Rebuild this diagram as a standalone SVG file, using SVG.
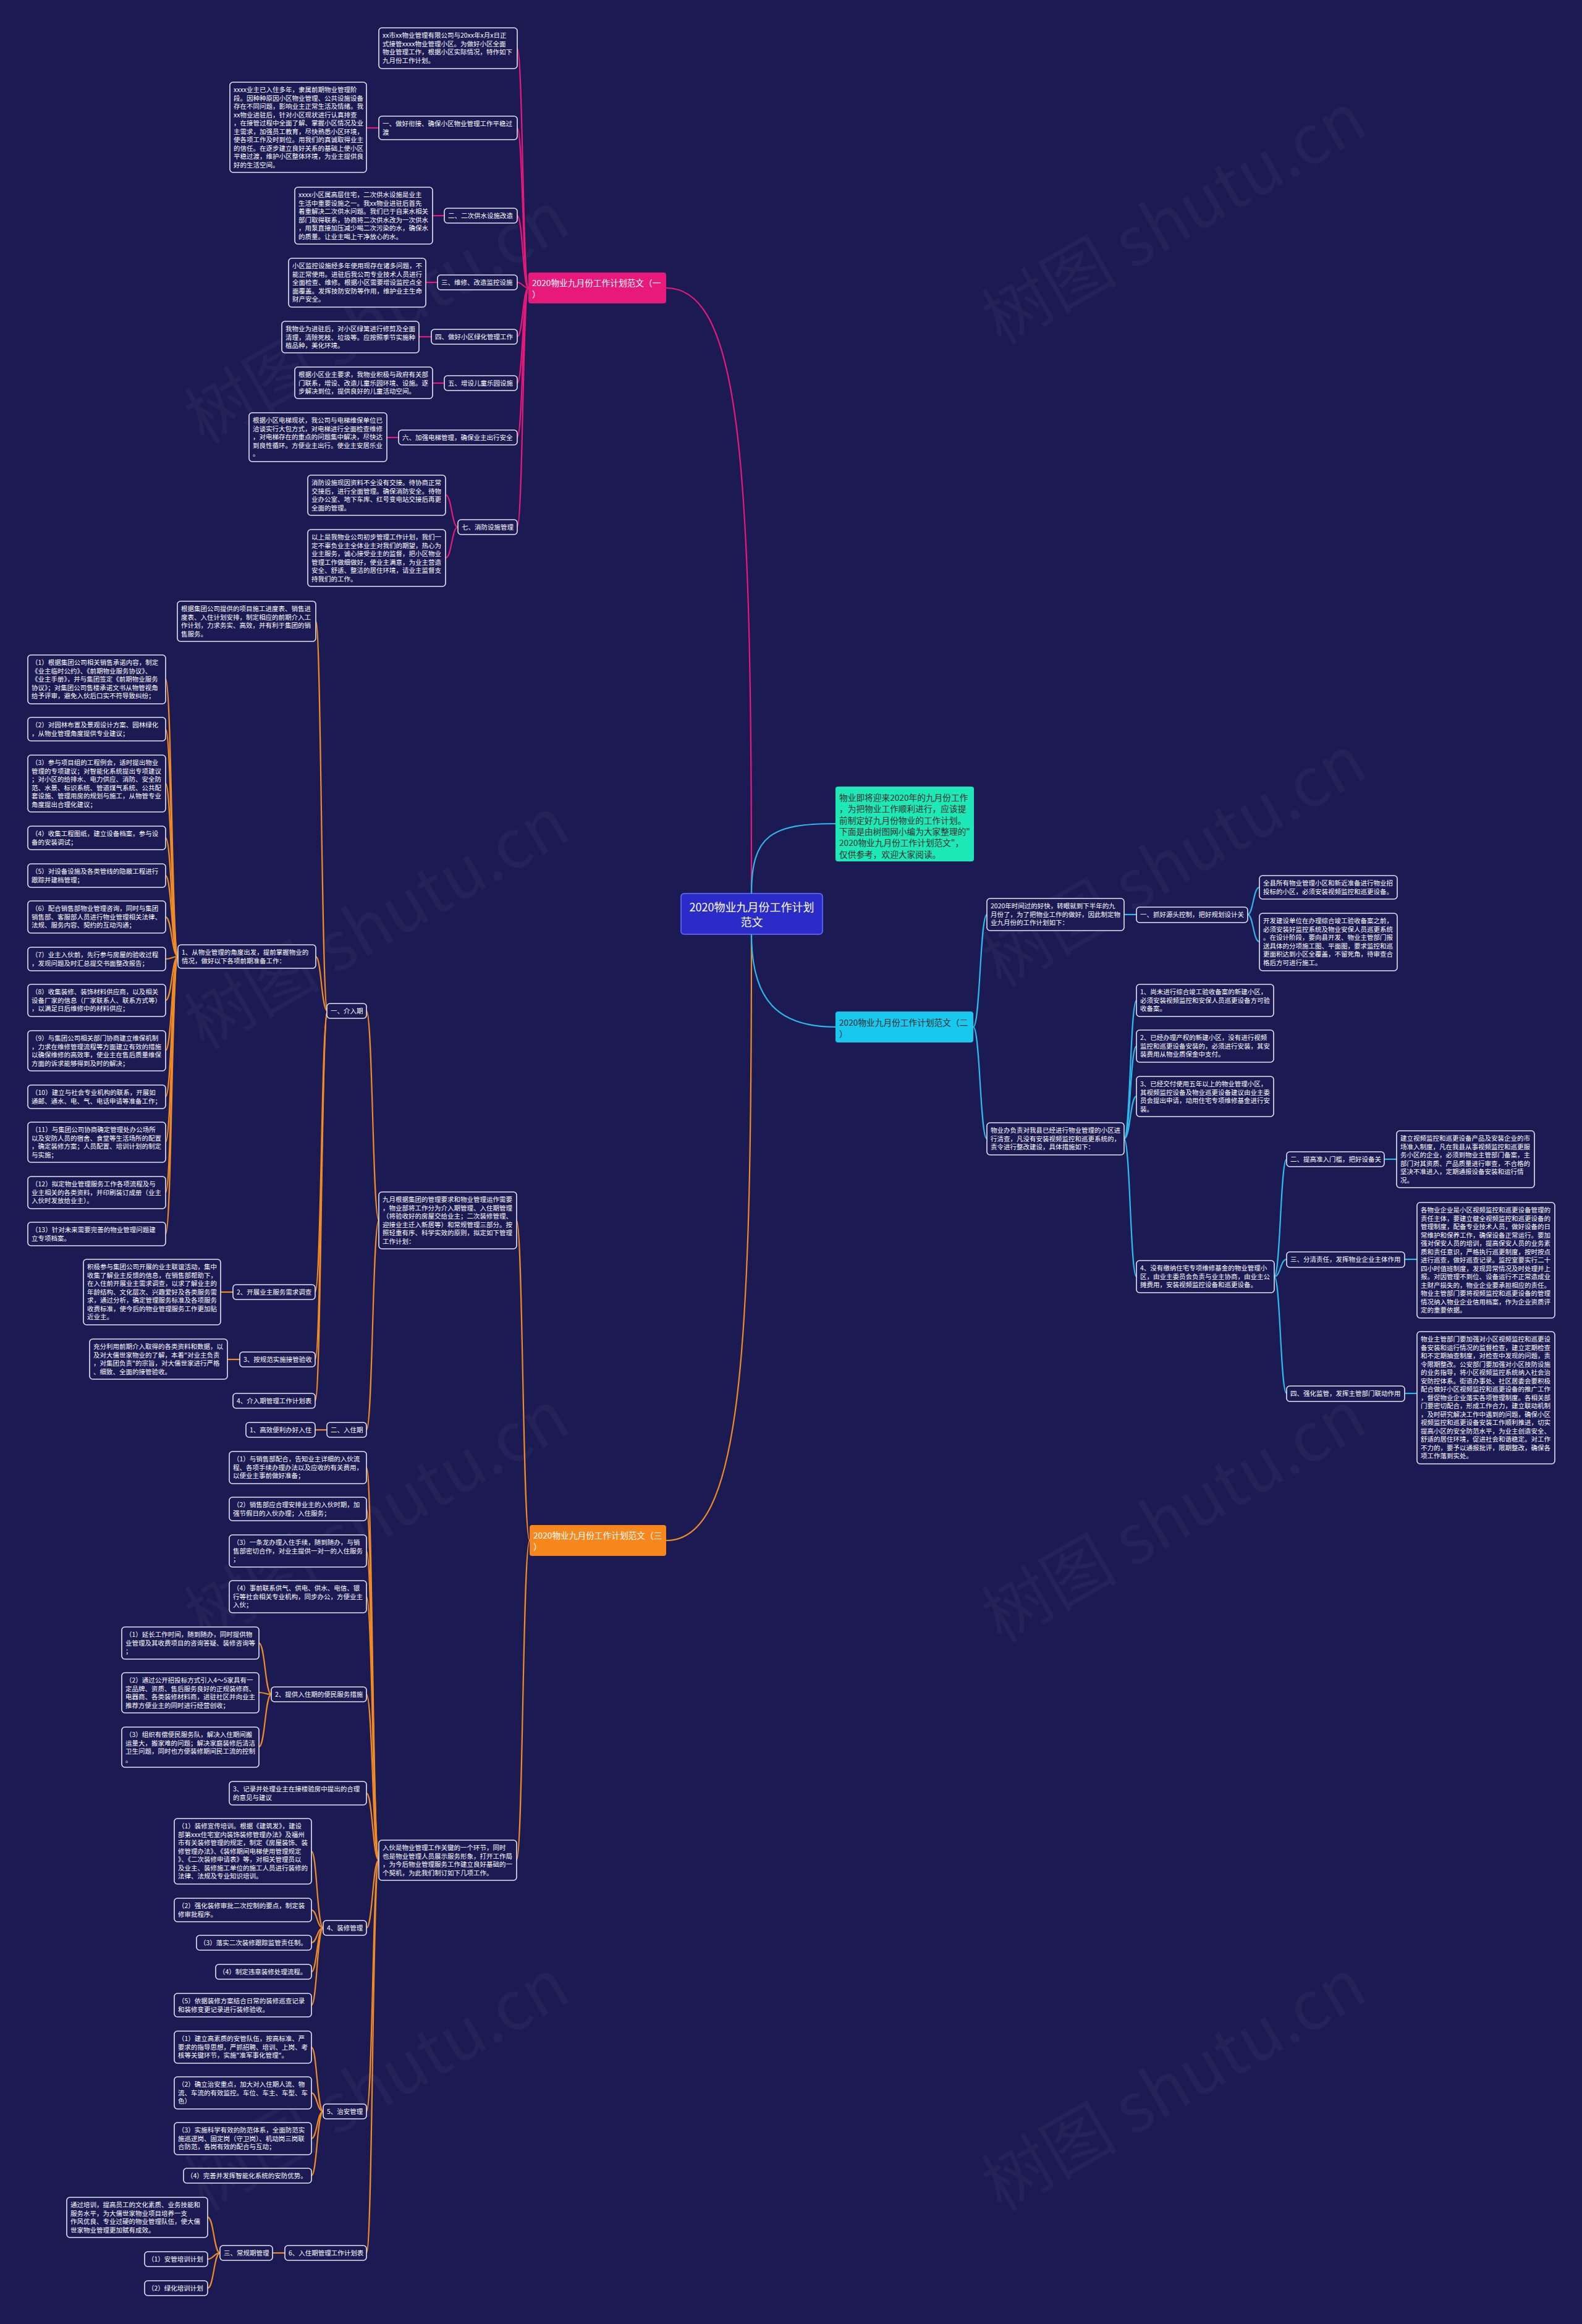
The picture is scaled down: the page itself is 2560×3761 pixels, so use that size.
<svg xmlns="http://www.w3.org/2000/svg" width="2560" height="3761" viewBox="0 0 2560 3761">
<style>
.bg{fill:#1b1a53}
.n rect{fill:#1b1a53;stroke:#e4e4ef;stroke-width:1.6}
.t{font-family:"Noto Sans CJK SC","Noto Sans",sans-serif;font-size:10.5px;fill:#ffffff}
.h{font-family:"Noto Sans CJK SC","Noto Sans",sans-serif;font-size:13.7px}
.lp{fill:none;stroke:#e8197a;stroke-width:2.2}
.lo{fill:none;stroke:#f08a24;stroke-width:2.2}
.lc{fill:none;stroke:#2cb9ec;stroke-width:2.2}
.wm{font-family:"Noto Sans CJK SC","Liberation Sans",sans-serif;font-size:110px;fill:#ffffff;fill-opacity:0.035}
</style>
<rect class="bg" x="0" y="0" width="2560" height="3761"/>
<g id="watermark">
<text class="wm" transform="translate(330,720) rotate(-30)">树图 shutu.cn</text>
<text class="wm" transform="translate(1620,560) rotate(-30)">树图 shutu.cn</text>
<text class="wm" transform="translate(330,1700) rotate(-30)">树图 shutu.cn</text>
<text class="wm" transform="translate(1620,1600) rotate(-30)">树图 shutu.cn</text>
<text class="wm" transform="translate(330,2660) rotate(-30)">树图 shutu.cn</text>
<text class="wm" transform="translate(1620,2660) rotate(-30)">树图 shutu.cn</text>
<text class="wm" transform="translate(330,3580) rotate(-30)">树图 shutu.cn</text>
<text class="wm" transform="translate(1620,3580) rotate(-30)">树图 shutu.cn</text>
</g>
<g id="connectors">
<path class="lp" d="M1216 1446 C1216 760 1200 466 1078 466"/>
<path class="lp" d="M855 466 C846 466 846 78 837 78"/>
<path class="lp" d="M855 466 C846 466 846 207 837 207"/>
<path class="lp" d="M855 466 C846 466 846 349 837 349"/>
<path class="lp" d="M855 466 C846 466 846 457 837 457"/>
<path class="lp" d="M855 466 C846 466 846 545 837 545"/>
<path class="lp" d="M855 466 C846 466 846 620 837 620"/>
<path class="lp" d="M855 466 C846 466 846 708 837 708"/>
<path class="lp" d="M855 466 C846 466 846 853 837 853"/>
<path class="lp" d="M613 207 L593 207"/>
<path class="lp" d="M719 349 L700 349"/>
<path class="lp" d="M708 457 L689 457"/>
<path class="lp" d="M698 545 L678 545"/>
<path class="lp" d="M719 620 L700 620"/>
<path class="lp" d="M645 708 L626 708"/>
<path class="lp" d="M741 853 C731 853 731 801 721 801"/>
<path class="lp" d="M741 853 C731 853 731 903 721 903"/>
<path class="lo" d="M1216 1512 C1216 2200 1200 2493 1078 2493"/>
<path class="lo" d="M857 2493 C846 2493 846 1975 836 1975"/>
<path class="lo" d="M857 2493 C846 2493 846 3010 836 3010"/>
<path class="lo" d="M613 1975 C603 1975 603 1636 593 1636"/>
<path class="lo" d="M613 1975 C603 1975 603 2314 593 2314"/>
<path class="lo" d="M530 1636 C520 1636 520 1005 511 1005"/>
<path class="lo" d="M530 1636 C520 1636 520 1548 511 1548"/>
<path class="lo" d="M530 1636 C520 1636 520 2091 510 2091"/>
<path class="lo" d="M530 1636 C520 1636 520 2200 510 2200"/>
<path class="lo" d="M530 1636 C520 1636 520 2267 510 2267"/>
<path class="lo" d="M288 1548 C278 1548 278 1099 268 1099"/>
<path class="lo" d="M288 1548 C278 1548 278 1180 268 1180"/>
<path class="lo" d="M288 1548 C278 1548 278 1268 268 1268"/>
<path class="lo" d="M288 1548 C278 1548 278 1356 268 1356"/>
<path class="lo" d="M288 1548 C278 1548 278 1417 268 1417"/>
<path class="lo" d="M288 1548 C278 1548 278 1484 268 1484"/>
<path class="lo" d="M288 1548 C278 1548 278 1552 268 1552"/>
<path class="lo" d="M288 1548 C278 1548 278 1619 268 1619"/>
<path class="lo" d="M288 1548 C278 1548 278 1700 268 1700"/>
<path class="lo" d="M288 1548 C278 1548 278 1775 268 1775"/>
<path class="lo" d="M288 1548 C278 1548 278 1848 268 1848"/>
<path class="lo" d="M288 1548 C278 1548 278 1930 268 1930"/>
<path class="lo" d="M288 1548 C278 1548 278 1997 268 1997"/>
<path class="lo" d="M377 2091 L357 2091"/>
<path class="lo" d="M388 2200 L368 2200"/>
<path class="lo" d="M530 2314 L510 2314"/>
<path class="lo" d="M613 3010 C603 3010 603 2375 593 2375"/>
<path class="lo" d="M613 3010 C603 3010 603 2442 593 2442"/>
<path class="lo" d="M613 3010 C603 3010 603 2510 593 2510"/>
<path class="lo" d="M613 3010 C603 3010 603 2584 593 2584"/>
<path class="lo" d="M613 3010 C603 3010 603 2742 593 2742"/>
<path class="lo" d="M613 3010 C603 3010 603 2902 593 2902"/>
<path class="lo" d="M613 3010 C603 3010 603 3120 593 3120"/>
<path class="lo" d="M613 3010 C603 3010 603 3417 593 3417"/>
<path class="lo" d="M613 3010 C603 3010 603 3646 593 3646"/>
<path class="lo" d="M439 2742 C429 2742 429 2659 419 2659"/>
<path class="lo" d="M439 2742 C429 2742 429 2739 419 2739"/>
<path class="lo" d="M439 2742 C429 2742 429 2827 419 2827"/>
<path class="lo" d="M523 3120 C513 3120 513 2996 504 2996"/>
<path class="lo" d="M523 3120 C513 3120 513 3091 504 3091"/>
<path class="lo" d="M523 3120 C513 3120 513 3144 504 3144"/>
<path class="lo" d="M523 3120 C513 3120 513 3191 504 3191"/>
<path class="lo" d="M523 3120 C513 3120 513 3245 504 3245"/>
<path class="lo" d="M523 3417 C513 3417 513 3313 504 3313"/>
<path class="lo" d="M523 3417 C513 3417 513 3387 504 3387"/>
<path class="lo" d="M523 3417 C513 3417 513 3461 504 3461"/>
<path class="lo" d="M523 3417 C513 3417 513 3521 504 3521"/>
<path class="lo" d="M461 3646 L441 3646"/>
<path class="lo" d="M356 3646 C346 3646 346 3588 336 3588"/>
<path class="lo" d="M356 3646 C346 3646 346 3656 336 3656"/>
<path class="lo" d="M356 3646 C346 3646 346 3703 336 3703"/>
<path class="lc" d="M1216 1446 C1216 1350 1250 1333 1352 1333"/>
<path class="lc" d="M1216 1512 C1216 1620 1260 1662 1352 1662"/>
<path class="lc" d="M1575 1662 C1586 1662 1586 1480 1597 1480"/>
<path class="lc" d="M1575 1662 C1586 1662 1586 1843 1597 1843"/>
<path class="lc" d="M1819 1480 L1839 1480"/>
<path class="lc" d="M2019 1480 C2028 1480 2028 1436 2038 1436"/>
<path class="lc" d="M2019 1480 C2028 1480 2028 1524 2038 1524"/>
<path class="lc" d="M1819 1843 C1829 1843 1829 1619 1839 1619"/>
<path class="lc" d="M1819 1843 C1829 1843 1829 1693 1839 1693"/>
<path class="lc" d="M1819 1843 C1829 1843 1829 1774 1839 1774"/>
<path class="lc" d="M1819 1843 C1829 1843 1829 2066 1839 2066"/>
<path class="lc" d="M2062 2066 C2072 2066 2072 1876 2082 1876"/>
<path class="lc" d="M2062 2066 C2072 2066 2072 2038 2082 2038"/>
<path class="lc" d="M2062 2066 C2072 2066 2072 2255 2082 2255"/>
<path class="lc" d="M2240 1876 L2260 1876"/>
<path class="lc" d="M2273 2038 L2293 2038"/>
<path class="lc" d="M2273 2255 L2293 2255"/>
</g>
<g id="center">
<rect x="1102" y="1446" width="229" height="66" rx="5" fill="#2b2bc9" stroke="#6474ff" stroke-width="1.5"/>
<text font-family="Noto Sans CJK SC, Noto Sans, sans-serif" font-size="18" fill="#ffffff" text-anchor="middle"><tspan x="1216.5" y="1475">2020物业九月份工作计划</tspan><tspan x="1216.5" y="1499">范文</tspan></text>
</g>
<g id="intro">
<rect x="1352" y="1273" width="224" height="121" rx="4" fill="#1de9b6"/>
<text class="h" fill="#2d2d2d"><tspan x="1358" y="1296">物业即将迎来2020年的九月份工作</tspan><tspan x="1358" dy="18.3">，为把物业工作顺利进行，应该提</tspan><tspan x="1358" dy="18.3">前制定好九月份物业的工作计划。</tspan><tspan x="1358" dy="18.3">下面是由树图网小编为大家整理的"</tspan><tspan x="1358" dy="18.3">2020物业九月份工作计划范文"，</tspan><tspan x="1358" dy="18.3">仅供参考，欢迎大家阅读。</tspan></text>
</g>
<g id="branch1">
<rect x="855" y="441" width="223" height="50" rx="4" fill="#e8197a"/>
<text class="h" fill="#ffffff"><tspan x="861" y="463">2020物业九月份工作计划范文（一</tspan><tspan x="861" dy="18">）</tspan></text>
</g>
<g id="branch2">
<rect x="1352" y="1637" width="223" height="50" rx="4" fill="#19c8ef"/>
<text class="h" fill="#2d2d2d"><tspan x="1358" y="1660">2020物业九月份工作计划范文（二</tspan><tspan x="1358" dy="18">）</tspan></text>
</g>
<g id="branch3">
<rect x="857" y="2468" width="221" height="50" rx="4" fill="#f7861c"/>
<text class="h" fill="#ffffff"><tspan x="863" y="2490">2020物业九月份工作计划范文（三</tspan><tspan x="863" dy="18">）</tspan></text>
</g>
<g id="p1" class="n"><rect x="613" y="45" width="224" height="66" rx="5"/><text class="t"><tspan x="619" y="61">xx市xx物业管理有限公司与20xx年x月x日正</tspan><tspan x="619" dy="13.5">式接管xxxx物业管理小区。为做好小区全面</tspan><tspan x="619" dy="13.5">物业管理工作，根据小区实际情况，特作如下</tspan><tspan x="619" dy="13.5">九月份工作计划。</tspan></text></g>
<g id="p2" class="n"><rect x="613" y="188" width="224" height="38" rx="5"/><text class="t"><tspan x="619" y="204">一、做好衔接、确保小区物业管理工作平稳过</tspan><tspan x="619" dy="13.5">渡</tspan></text></g>
<g id="p2d" class="n"><rect x="372" y="133" width="221" height="146" rx="5"/><text class="t"><tspan x="378" y="149">xxxx业主已入住多年，隶属前期物业管理阶</tspan><tspan x="378" dy="13.5">段。因种种原因小区物业管理、公共设施设备</tspan><tspan x="378" dy="13.5">存在不同问题，影响业主正常生活及情绪。我</tspan><tspan x="378" dy="13.5">xx物业进驻后，针对小区现状进行认真排查</tspan><tspan x="378" dy="13.5">，在接管过程中全面了解、掌握小区情况及业</tspan><tspan x="378" dy="13.5">主需求，加强员工教育，尽快熟悉小区环境，</tspan><tspan x="378" dy="13.5">使各项工作及时到位。用我们的真诚取得业主</tspan><tspan x="378" dy="13.5">的信任。在逐步建立良好关系的基础上使小区</tspan><tspan x="378" dy="13.5">平稳过渡，维护小区整体环境，为业主提供良</tspan><tspan x="378" dy="13.5">好的生活空间。</tspan></text></g>
<g id="p3" class="n"><rect x="719" y="337" width="118" height="24" rx="5"/><text class="t"><tspan x="725" y="353">二、二次供水设施改造</tspan></text></g>
<g id="p3d" class="n"><rect x="477" y="303" width="223" height="92" rx="5"/><text class="t"><tspan x="483" y="319">xxxx小区属高层住宅，二次供水设施是业主</tspan><tspan x="483" dy="13.5">生活中重要设施之一。我xx物业进驻后首先</tspan><tspan x="483" dy="13.5">着重解决二次供水问题。我们已于自来水相关</tspan><tspan x="483" dy="13.5">部门取得联系，协商将二次供水改为一次供水</tspan><tspan x="483" dy="13.5">，用泵直接加压减少喝二次污染的水，确保水</tspan><tspan x="483" dy="13.5">的质量。让业主喝上干净放心的水。</tspan></text></g>
<g id="p4" class="n"><rect x="708" y="445" width="129" height="24" rx="5"/><text class="t"><tspan x="714" y="461">三、维修、改造监控设施</tspan></text></g>
<g id="p4d" class="n"><rect x="467" y="418" width="222" height="79" rx="5"/><text class="t"><tspan x="473" y="434">小区监控设施经多年使用现存在诸多问题，不</tspan><tspan x="473" dy="13.5">能正常使用。进驻后我公司专业技术人员进行</tspan><tspan x="473" dy="13.5">全面检查、维修。根据小区需要增设监控点全</tspan><tspan x="473" dy="13.5">面覆盖。发挥技防安防等作用，维护业主生命</tspan><tspan x="473" dy="13.5">财产安全。</tspan></text></g>
<g id="p5" class="n"><rect x="698" y="533" width="139" height="24" rx="5"/><text class="t"><tspan x="704" y="549">四、做好小区绿化管理工作</tspan></text></g>
<g id="p5d" class="n"><rect x="456" y="520" width="222" height="51" rx="5"/><text class="t"><tspan x="462" y="536">我物业为进驻后，对小区绿篱进行修剪及全面</tspan><tspan x="462" dy="13.5">清理，清除死枝、垃圾等。应按照季节实施种</tspan><tspan x="462" dy="13.5">植品种，美化环境。</tspan></text></g>
<g id="p6" class="n"><rect x="719" y="608" width="118" height="24" rx="5"/><text class="t"><tspan x="725" y="624">五、增设儿童乐园设施</tspan></text></g>
<g id="p6d" class="n"><rect x="477" y="594" width="223" height="51" rx="5"/><text class="t"><tspan x="483" y="610">根据小区业主要求，我物业积极与政府有关部</tspan><tspan x="483" dy="13.5">门联系，增设、改造儿童乐园环境、设施。逐</tspan><tspan x="483" dy="13.5">步解决到位，提供良好的儿童活动空间。</tspan></text></g>
<g id="p7" class="n"><rect x="645" y="696" width="192" height="24" rx="5"/><text class="t"><tspan x="651" y="712">六、加强电梯管理，确保业主出行安全</tspan></text></g>
<g id="p7d" class="n"><rect x="403" y="668" width="223" height="79" rx="5"/><text class="t"><tspan x="409" y="684">根据小区电梯现状，我公司与电梯维保单位已</tspan><tspan x="409" dy="13.5">洽谈实行大包方式，对电梯进行全面检查维修</tspan><tspan x="409" dy="13.5">，对电梯存在的重点的问题集中解决，尽快达</tspan><tspan x="409" dy="13.5">到良性循环。方便业主出行。使业主安居乐业</tspan><tspan x="409" dy="13.5">。</tspan></text></g>
<g id="p8" class="n"><rect x="741" y="841" width="96" height="24" rx="5"/><text class="t"><tspan x="747" y="857">七、消防设施管理</tspan></text></g>
<g id="p8a" class="n"><rect x="498" y="769" width="223" height="65" rx="5"/><text class="t"><tspan x="504" y="785">消防设施现因资料不全没有交接。待协商正常</tspan><tspan x="504" dy="13.5">交接后，进行全面管理。确保消防安全。待物</tspan><tspan x="504" dy="13.5">业办公室、地下车库、红号变电站交接后再更</tspan><tspan x="504" dy="13.5">全面的管理。</tspan></text></g>
<g id="p8b" class="n"><rect x="498" y="857" width="223" height="92" rx="5"/><text class="t"><tspan x="504" y="873">以上是我物业公司初步管理工作计划，我们一</tspan><tspan x="504" dy="13.5">定不辜负业主全体业主对我们的期望，热心为</tspan><tspan x="504" dy="13.5">业主服务，诚心接受业主的监督，把小区物业</tspan><tspan x="504" dy="13.5">管理工作做细做好，使业主满意，为业主营造</tspan><tspan x="504" dy="13.5">安全、舒适、整洁的居住环境，请业主监督支</tspan><tspan x="504" dy="13.5">持我们的工作。</tspan></text></g>
<g id="o1" class="n"><rect x="613" y="1929" width="223" height="92" rx="5"/><text class="t"><tspan x="619" y="1945">九月根据集团的管理要求和物业管理运作需要</tspan><tspan x="619" dy="13.5">，物业部将工作分为介入期管理、入住期管理</tspan><tspan x="619" dy="13.5">（将验收好的房屋交给业主；二次装修管理、</tspan><tspan x="619" dy="13.5">迎接业主迁入新居等）和常规管理三部分。按</tspan><tspan x="619" dy="13.5">照轻重有序、科学实效的原则，拟定如下管理</tspan><tspan x="619" dy="13.5">工作计划：</tspan></text></g>
<g id="o1a" class="n"><rect x="529" y="1624" width="64" height="24" rx="5"/><text class="t"><tspan x="535" y="1640">一、介入期</tspan></text></g>
<g id="a0" class="n"><rect x="287" y="973" width="224" height="65" rx="5"/><text class="t"><tspan x="293" y="989">根据集团公司提供的项目施工进度表、销售进</tspan><tspan x="293" dy="13.5">度表、入住计划安排，制定相应的前期介入工</tspan><tspan x="293" dy="13.5">作计划，力求务实、高效，并有利于集团的销</tspan><tspan x="293" dy="13.5">售服务。</tspan></text></g>
<g id="a1" class="n"><rect x="288" y="1529" width="223" height="38" rx="5"/><text class="t"><tspan x="294" y="1545">1、从物业管理的角度出发，提前掌握物业的</tspan><tspan x="294" dy="13.5">情况，做好以下各项前期准备工作：</tspan></text></g>
<g id="a1-1" class="n"><rect x="45" y="1060" width="223" height="79" rx="5"/><text class="t"><tspan x="51" y="1076">（1）根据集团公司相关销售承诺内容，制定</tspan><tspan x="51" dy="13.5">《业主临时公约》、《前期物业服务协议》、</tspan><tspan x="51" dy="13.5">《业主手册》，并与集团签定《前期物业服务</tspan><tspan x="51" dy="13.5">协议》；对集团公司售楼承诺文书从物管视角</tspan><tspan x="51" dy="13.5">给予评审，避免入伙后口实不符导致纠纷；</tspan></text></g>
<g id="a1-2" class="n"><rect x="45" y="1161" width="223" height="38" rx="5"/><text class="t"><tspan x="51" y="1177">（2）对园林布置及景观设计方案、园林绿化</tspan><tspan x="51" dy="13.5">，从物业管理角度提供专业建议；</tspan></text></g>
<g id="a1-3" class="n"><rect x="45" y="1222" width="223" height="92" rx="5"/><text class="t"><tspan x="51" y="1238">（3）参与项目组的工程例会，适时提出物业</tspan><tspan x="51" dy="13.5">管理的专项建议；对智能化系统提出专项建议</tspan><tspan x="51" dy="13.5">；对小区的给排水、电力供应、消防、安全防</tspan><tspan x="51" dy="13.5">范、水景、标识系统、管道煤气系统、公共配</tspan><tspan x="51" dy="13.5">套设施、管理用房的规划与施工，从物管专业</tspan><tspan x="51" dy="13.5">角度提出合理化建议；</tspan></text></g>
<g id="a1-4" class="n"><rect x="45" y="1337" width="223" height="38" rx="5"/><text class="t"><tspan x="51" y="1353">（4）收集工程图纸，建立设备档案，参与设</tspan><tspan x="51" dy="13.5">备的安装调试；</tspan></text></g>
<g id="a1-5" class="n"><rect x="45" y="1398" width="223" height="38" rx="5"/><text class="t"><tspan x="51" y="1414">（5）对设备设施及各类管线的隐蔽工程进行</tspan><tspan x="51" dy="13.5">跟踪并建档管理；</tspan></text></g>
<g id="a1-6" class="n"><rect x="45" y="1458" width="223" height="52" rx="5"/><text class="t"><tspan x="51" y="1474">（6）配合销售部物业管理咨询，同时与集团</tspan><tspan x="51" dy="13.5">销售部、客服部人员进行物业管理相关法律、</tspan><tspan x="51" dy="13.5">法规、服务内容、契约的互动沟通；</tspan></text></g>
<g id="a1-7" class="n"><rect x="45" y="1533" width="223" height="38" rx="5"/><text class="t"><tspan x="51" y="1549">（7）业主入伙前，先行参与房屋的验收过程</tspan><tspan x="51" dy="13.5">，发现问题及时汇总提交书面整改报告；</tspan></text></g>
<g id="a1-8" class="n"><rect x="45" y="1593" width="223" height="52" rx="5"/><text class="t"><tspan x="51" y="1609">（8）收集装修、装饰材料供应商，以及相关</tspan><tspan x="51" dy="13.5">设备厂家的信息（厂家联系人、联系方式等）</tspan><tspan x="51" dy="13.5">，以满足日后维修中的材料供应；</tspan></text></g>
<g id="a1-9" class="n"><rect x="45" y="1668" width="223" height="65" rx="5"/><text class="t"><tspan x="51" y="1684">（9）与集团公司相关部门协商建立维保机制</tspan><tspan x="51" dy="13.5">，力求在维修管理流程等方面建立有效的措施</tspan><tspan x="51" dy="13.5">以确保维修的高效率，使业主在售后质量维保</tspan><tspan x="51" dy="13.5">方面的诉求能够得到及时的解决；</tspan></text></g>
<g id="a1-10" class="n"><rect x="45" y="1756" width="223" height="38" rx="5"/><text class="t"><tspan x="51" y="1772">（10）建立与社会专业机构的联系，开展如</tspan><tspan x="51" dy="13.5">通邮、通水、电、气、电话申请等准备工作；</tspan></text></g>
<g id="a1-11" class="n"><rect x="45" y="1816" width="223" height="65" rx="5"/><text class="t"><tspan x="51" y="1832">（11）与集团公司协商确定管理处办公场所</tspan><tspan x="51" dy="13.5">以及安防人员的宿舍、食堂等生活场所的配置</tspan><tspan x="51" dy="13.5">，确定装修方案；人员配置、培训计划的制定</tspan><tspan x="51" dy="13.5">与实施；</tspan></text></g>
<g id="a1-12" class="n"><rect x="45" y="1904" width="223" height="52" rx="5"/><text class="t"><tspan x="51" y="1920">（12）拟定物业管理服务工作各项流程及与</tspan><tspan x="51" dy="13.5">业主相关的各类资料，并印刷装订成册（业主</tspan><tspan x="51" dy="13.5">入伙时发放给业主）。</tspan></text></g>
<g id="a1-13" class="n"><rect x="45" y="1978" width="223" height="38" rx="5"/><text class="t"><tspan x="51" y="1994">（13）针对未来需要完善的物业管理问题建</tspan><tspan x="51" dy="13.5">立专项档案。</tspan></text></g>
<g id="a2" class="n"><rect x="377" y="2079" width="133" height="24" rx="5"/><text class="t"><tspan x="383" y="2095">2、开展业主服务需求调查</tspan></text></g>
<g id="a2d" class="n"><rect x="135" y="2038" width="222" height="106" rx="5"/><text class="t"><tspan x="141" y="2054">积极参与集团公司开展的业主联谊活动，集中</tspan><tspan x="141" dy="13.5">收集了解业主反馈的信息，在销售部帮助下，</tspan><tspan x="141" dy="13.5">在入住前开展业主需求调查，以求了解业主的</tspan><tspan x="141" dy="13.5">年龄结构、文化层次、兴趣爱好及各类服务需</tspan><tspan x="141" dy="13.5">求，通过分析，确定管理服务标准及各项服务</tspan><tspan x="141" dy="13.5">收费标准，使今后的物业管理服务工作更加贴</tspan><tspan x="141" dy="13.5">近业主。</tspan></text></g>
<g id="a3" class="n"><rect x="388" y="2188" width="122" height="24" rx="5"/><text class="t"><tspan x="394" y="2204">3、按规范实施接管验收</tspan></text></g>
<g id="a3d" class="n"><rect x="145" y="2167" width="223" height="65" rx="5"/><text class="t"><tspan x="151" y="2183">充分利用前期介入取得的各类资料和数据，以</tspan><tspan x="151" dy="13.5">及对大儒世家物业的了解，本着"对业主负责</tspan><tspan x="151" dy="13.5">，对集团负责"的宗旨，对大儒世家进行严格</tspan><tspan x="151" dy="13.5">、细致、全面的接管验收。</tspan></text></g>
<g id="a4" class="n"><rect x="377" y="2255" width="133" height="24" rx="5"/><text class="t"><tspan x="383" y="2271">4、介入期管理工作计划表</tspan></text></g>
<g id="o1b" class="n"><rect x="529" y="2302" width="64" height="24" rx="5"/><text class="t"><tspan x="535" y="2318">二、入住期</tspan></text></g>
<g id="o1b1" class="n"><rect x="398" y="2302" width="112" height="24" rx="5"/><text class="t"><tspan x="404" y="2318">1、高效便利办好入住</tspan></text></g>
<g id="o2" class="n"><rect x="613" y="2978" width="223" height="65" rx="5"/><text class="t"><tspan x="619" y="2994">入伙是物业管理工作关键的一个环节，同时</tspan><tspan x="619" dy="13.5">也是物业管理人员展示服务形象，打开工作局</tspan><tspan x="619" dy="13.5">，为今后物业管理服务工作建立良好基础的一</tspan><tspan x="619" dy="13.5">个契机，为此我们制订如下几项工作。</tspan></text></g>
<g id="b1" class="n"><rect x="371" y="2349" width="222" height="52" rx="5"/><text class="t"><tspan x="377" y="2365">（1）与销售部配合，告知业主详细的入伙流</tspan><tspan x="377" dy="13.5">程、各项手续办理办法以及应收的有关费用，</tspan><tspan x="377" dy="13.5">以便业主事前做好准备；</tspan></text></g>
<g id="b2" class="n"><rect x="371" y="2423" width="222" height="38" rx="5"/><text class="t"><tspan x="377" y="2439">（2）销售部应合理安排业主的入伙时期，加</tspan><tspan x="377" dy="13.5">强节假日的入伙办理；入住服务；</tspan></text></g>
<g id="b3" class="n"><rect x="371" y="2484" width="222" height="52" rx="5"/><text class="t"><tspan x="377" y="2500">（3）一条龙办理入住手续，随到随办，与销</tspan><tspan x="377" dy="13.5">售部密切合作，对业主提供一对一的入住服务</tspan><tspan x="377" dy="13.5">；</tspan></text></g>
<g id="b4" class="n"><rect x="371" y="2558" width="222" height="52" rx="5"/><text class="t"><tspan x="377" y="2574">（4）事前联系供气、供电、供水、电信、银</tspan><tspan x="377" dy="13.5">行等社会相关专业机构，同步办公，方便业主</tspan><tspan x="377" dy="13.5">入伙；</tspan></text></g>
<g id="b5" class="n"><rect x="439" y="2730" width="154" height="24" rx="5"/><text class="t"><tspan x="445" y="2746">2、提供入住期的便民服务措施</tspan></text></g>
<g id="b5-1" class="n"><rect x="197" y="2633" width="222" height="52" rx="5"/><text class="t"><tspan x="203" y="2649">（1）延长工作时间，随到随办，同时提供物</tspan><tspan x="203" dy="13.5">业管理及其收费项目的咨询答疑、装修咨询等</tspan><tspan x="203" dy="13.5">；</tspan></text></g>
<g id="b5-2" class="n"><rect x="197" y="2707" width="222" height="65" rx="5"/><text class="t"><tspan x="203" y="2723">（2）通过公开招投标方式引入4～5家具有一</tspan><tspan x="203" dy="13.5">定品牌、资质、售后服务良好的正规装修商、</tspan><tspan x="203" dy="13.5">电器商、各类装修材料商，进驻社区并向业主</tspan><tspan x="203" dy="13.5">推荐方便业主的同时进行经营创收；</tspan></text></g>
<g id="b5-3" class="n"><rect x="197" y="2795" width="222" height="65" rx="5"/><text class="t"><tspan x="203" y="2811">（3）组织有偿便民服务队，解决入住期间搬</tspan><tspan x="203" dy="13.5">运量大，搬家难的问题；解决家庭装修后清洁</tspan><tspan x="203" dy="13.5">卫生问题，同时也方便装修期间民工流的控制</tspan><tspan x="203" dy="13.5">。</tspan></text></g>
<g id="b6" class="n"><rect x="371" y="2883" width="222" height="38" rx="5"/><text class="t"><tspan x="377" y="2899">3、记录并处理业主在接楼验房中提出的合理</tspan><tspan x="377" dy="13.5">的意见与建议</tspan></text></g>
<g id="b7" class="n"><rect x="523" y="3108" width="70" height="24" rx="5"/><text class="t"><tspan x="529" y="3124">4、装修管理</tspan></text></g>
<g id="b7-1" class="n"><rect x="282" y="2943" width="222" height="106" rx="5"/><text class="t"><tspan x="288" y="2959">（1）装修宣传培训。根据《建筑发》，建设</tspan><tspan x="288" dy="13.5">部第xxx住宅室内装饰装修管理办法》及福州</tspan><tspan x="288" dy="13.5">市有关装修管理的规定，制定《房屋装饰、装</tspan><tspan x="288" dy="13.5">修管理办法》、《装修期间电梯使用管理规定</tspan><tspan x="288" dy="13.5">》、《二次装修申请表》等，对相关管理员以</tspan><tspan x="288" dy="13.5">及业主、装修施工单位的施工人员进行装修的</tspan><tspan x="288" dy="13.5">法律、法规及专业知识培训。</tspan></text></g>
<g id="b7-2" class="n"><rect x="282" y="3072" width="222" height="38" rx="5"/><text class="t"><tspan x="288" y="3088">（2）强化装修审批二次控制的要点，制定装</tspan><tspan x="288" dy="13.5">修审批程序。</tspan></text></g>
<g id="b7-3" class="n"><rect x="318" y="3132" width="186" height="24" rx="5"/><text class="t"><tspan x="323" y="3148">（3）落实二次装修跟踪监管责任制。</tspan></text></g>
<g id="b7-4" class="n"><rect x="349" y="3179" width="155" height="24" rx="5"/><text class="t"><tspan x="354" y="3195">（4）制定违章装修处理流程。</tspan></text></g>
<g id="b7-5" class="n"><rect x="282" y="3226" width="222" height="38" rx="5"/><text class="t"><tspan x="288" y="3242">（5）依据装修方案结合日常的装修巡查记录</tspan><tspan x="288" dy="13.5">和装修变更记录进行装修验收。</tspan></text></g>
<g id="b8" class="n"><rect x="523" y="3405" width="70" height="24" rx="5"/><text class="t"><tspan x="529" y="3421">5、治安管理</tspan></text></g>
<g id="b8-1" class="n"><rect x="282" y="3287" width="222" height="52" rx="5"/><text class="t"><tspan x="288" y="3303">（1）建立高素质的安管队伍，按高标准、严</tspan><tspan x="288" dy="13.5">要求的指导思想，严抓招聘、培训、上岗、考</tspan><tspan x="288" dy="13.5">核等关键环节，实施"准军事化管理"。</tspan></text></g>
<g id="b8-2" class="n"><rect x="282" y="3361" width="222" height="52" rx="5"/><text class="t"><tspan x="288" y="3377">（2）确立治安重点，加大对入住期人流、物</tspan><tspan x="288" dy="13.5">流、车流的有效监控。车位、车主、车型、车</tspan><tspan x="288" dy="13.5">色）</tspan></text></g>
<g id="b8-3" class="n"><rect x="282" y="3435" width="222" height="52" rx="5"/><text class="t"><tspan x="288" y="3451">（3）实施科学有效的防范体系，全面防范实</tspan><tspan x="288" dy="13.5">施巡逻岗、固定岗（守卫岗）、机动岗三岗联</tspan><tspan x="288" dy="13.5">合防范，各岗有效的配合与互动；</tspan></text></g>
<g id="b8-4" class="n"><rect x="297" y="3509" width="207" height="24" rx="5"/><text class="t"><tspan x="302" y="3525">（4）完善并发挥智能化系统的安防优势。</tspan></text></g>
<g id="b9" class="n"><rect x="461" y="3634" width="132" height="24" rx="5"/><text class="t"><tspan x="467" y="3650">6、入住期管理工作计划表</tspan></text></g>
<g id="c0" class="n"><rect x="356" y="3634" width="85" height="24" rx="5"/><text class="t"><tspan x="362" y="3650">三、常规期管理</tspan></text></g>
<g id="c0d" class="n"><rect x="108" y="3556" width="228" height="65" rx="5"/><text class="t"><tspan x="114" y="3572">通过培训，提高员工的文化素质、业务技能和</tspan><tspan x="114" dy="13.5">服务水平，为大儒世家物业项目培养一支</tspan><tspan x="114" dy="13.5">作风优良、专业过硬的物业管理队伍，使大儒</tspan><tspan x="114" dy="13.5">世家物业管理更加赋有成效。</tspan></text></g>
<g id="c1" class="n"><rect x="234" y="3644" width="102" height="24" rx="5"/><text class="t"><tspan x="239" y="3660">（1）安管培训计划</tspan></text></g>
<g id="c2" class="n"><rect x="234" y="3691" width="102" height="24" rx="5"/><text class="t"><tspan x="239" y="3707">（2）绿化培训计划</tspan></text></g>
<g id="k1" class="n"><rect x="1597" y="1454" width="222" height="52" rx="5"/><text class="t"><tspan x="1603" y="1470">2020年时间过的好快，转眼就到下半年的九</tspan><tspan x="1603" dy="13.5">月份了，为了把物业工作的做好，因此制定物</tspan><tspan x="1603" dy="13.5">业九月份的工作计划如下：</tspan></text></g>
<g id="k1a" class="n"><rect x="1839" y="1468" width="180" height="25" rx="5"/><text class="t"><tspan x="1845" y="1484">一、抓好源头控制，把好规划设计关</tspan></text></g>
<g id="k1a1" class="n"><rect x="2038" y="1417" width="223" height="38" rx="5"/><text class="t"><tspan x="2044" y="1433">全县所有物业管理小区和新近准备进行物业招</tspan><tspan x="2044" dy="13.5">投标的小区，必须安装视频监控和巡更设备。</tspan></text></g>
<g id="k1a2" class="n"><rect x="2038" y="1478" width="223" height="93" rx="5"/><text class="t"><tspan x="2044" y="1494">开发建设单位在办理综合竣工验收备案之前，</tspan><tspan x="2044" dy="13.5">必须安装好监控系统及物业安保人员巡更系统</tspan><tspan x="2044" dy="13.5">。在设计阶段，要向县开发、物业主管部门报</tspan><tspan x="2044" dy="13.5">送具体的分项施工图、平面图，要求监控和巡</tspan><tspan x="2044" dy="13.5">更面积达到小区全覆盖，不留死角，待审查合</tspan><tspan x="2044" dy="13.5">格后方可进行施工。</tspan></text></g>
<g id="k2" class="n"><rect x="1597" y="1817" width="222" height="52" rx="5"/><text class="t"><tspan x="1603" y="1833">物业办负责对我县已经进行物业管理的小区进</tspan><tspan x="1603" dy="13.5">行清查，凡没有安装视频监控和巡更系统的，</tspan><tspan x="1603" dy="13.5">责令进行整改建设，具体措施如下：</tspan></text></g>
<g id="k2a" class="n"><rect x="1839" y="1593" width="222" height="52" rx="5"/><text class="t"><tspan x="1845" y="1609">1、尚未进行综合竣工验收备案的新建小区，</tspan><tspan x="1845" dy="13.5">必须安装视频监控和安保人员巡更设备方可验</tspan><tspan x="1845" dy="13.5">收备案。</tspan></text></g>
<g id="k2b" class="n"><rect x="1839" y="1667" width="222" height="52" rx="5"/><text class="t"><tspan x="1845" y="1683">2、已经办理产权的新建小区，没有进行视频</tspan><tspan x="1845" dy="13.5">监控和巡更设备安装的，必须进行安装，其安</tspan><tspan x="1845" dy="13.5">装费用从物业质保金中支付。</tspan></text></g>
<g id="k2c" class="n"><rect x="1839" y="1742" width="222" height="65" rx="5"/><text class="t"><tspan x="1845" y="1758">3、已经交付使用五年以上的物业管理小区，</tspan><tspan x="1845" dy="13.5">其视频监控设备及物业巡更设备建议由业主委</tspan><tspan x="1845" dy="13.5">员会提出申请，动用住宅专项维修基金进行安</tspan><tspan x="1845" dy="13.5">装。</tspan></text></g>
<g id="k2d" class="n"><rect x="1839" y="2040" width="223" height="52" rx="5"/><text class="t"><tspan x="1845" y="2056">4、没有缴纳住宅专项维修基金的物业管理小</tspan><tspan x="1845" dy="13.5">区，由业主委员会负责与业主协商，由业主公</tspan><tspan x="1845" dy="13.5">摊费用，安装视频监控设备和巡更设备。</tspan></text></g>
<g id="k3" class="n"><rect x="2082" y="1864" width="158" height="24" rx="5"/><text class="t"><tspan x="2088" y="1880">二、提高准入门槛，把好设备关</tspan></text></g>
<g id="k3d" class="n"><rect x="2260" y="1830" width="223" height="92" rx="5"/><text class="t"><tspan x="2266" y="1846">建立视频监控和巡更设备产品及安装企业的市</tspan><tspan x="2266" dy="13.5">场准入制度，凡在我县从事视频监控和巡更服</tspan><tspan x="2266" dy="13.5">务小区的企业，必须到物业主管部门备案，主</tspan><tspan x="2266" dy="13.5">部门对其资质、产品质量进行审查，不合格的</tspan><tspan x="2266" dy="13.5">坚决不准进入，定期通报设备安装和运行情</tspan><tspan x="2266" dy="13.5">况。</tspan></text></g>
<g id="k4" class="n"><rect x="2082" y="2026" width="191" height="25" rx="5"/><text class="t"><tspan x="2088" y="2042">三、分清责任，发挥物业企业主体作用</tspan></text></g>
<g id="k4d" class="n"><rect x="2293" y="1946" width="223" height="187" rx="5"/><text class="t"><tspan x="2299" y="1962">各物业企业是小区视频监控和巡更设备管理的</tspan><tspan x="2299" dy="13.5">责任主体，要建立健全视频监控和巡更设备的</tspan><tspan x="2299" dy="13.5">管理制度，配备专业技术人员，做好设备的日</tspan><tspan x="2299" dy="13.5">常维护和保养工作，确保设备正常运行。要加</tspan><tspan x="2299" dy="13.5">强对保安人员的培训，提高保安人员的业务素</tspan><tspan x="2299" dy="13.5">质和责任意识，严格执行巡更制度，按时按点</tspan><tspan x="2299" dy="13.5">进行巡查，做好巡查记录。监控室要实行二十</tspan><tspan x="2299" dy="13.5">四小时值班制度，发现异常情况及时处理并上</tspan><tspan x="2299" dy="13.5">报。对因管理不到位、设备运行不正常造成业</tspan><tspan x="2299" dy="13.5">主财产损失的，物业企业要承担相应的责任。</tspan><tspan x="2299" dy="13.5">物业主管部门要将视频监控和巡更设备的管理</tspan><tspan x="2299" dy="13.5">情况纳入物业企业信用档案，作为企业资质评</tspan><tspan x="2299" dy="13.5">定的重要依据。</tspan></text></g>
<g id="k5" class="n"><rect x="2082" y="2243" width="191" height="25" rx="5"/><text class="t"><tspan x="2088" y="2259">四、强化监管，发挥主管部门联动作用</tspan></text></g>
<g id="k5d" class="n"><rect x="2293" y="2155" width="223" height="214" rx="5"/><text class="t"><tspan x="2299" y="2171">物业主管部门要加强对小区视频监控和巡更设</tspan><tspan x="2299" dy="13.5">备安装和运行情况的监督检查，建立定期检查</tspan><tspan x="2299" dy="13.5">和不定期抽查制度，对检查中发现的问题，责</tspan><tspan x="2299" dy="13.5">令限期整改。公安部门要加强对小区技防设施</tspan><tspan x="2299" dy="13.5">的业务指导，将小区视频监控系统纳入社会治</tspan><tspan x="2299" dy="13.5">安防控体系。街道办事处、社区居委会要积极</tspan><tspan x="2299" dy="13.5">配合做好小区视频监控和巡更设备的推广工作</tspan><tspan x="2299" dy="13.5">，督促物业企业落实各项管理制度。各相关部</tspan><tspan x="2299" dy="13.5">门要密切配合，形成工作合力，建立联动机制</tspan><tspan x="2299" dy="13.5">，及时研究解决工作中遇到的问题，确保小区</tspan><tspan x="2299" dy="13.5">视频监控和巡更设备安装工作顺利推进，切实</tspan><tspan x="2299" dy="13.5">提高小区的安全防范水平，为业主创造安全、</tspan><tspan x="2299" dy="13.5">舒适的居住环境，促进社会和谐稳定。对工作</tspan><tspan x="2299" dy="13.5">不力的，要予以通报批评，限期整改，确保各</tspan><tspan x="2299" dy="13.5">项工作落到实处。</tspan></text></g>
</svg>
